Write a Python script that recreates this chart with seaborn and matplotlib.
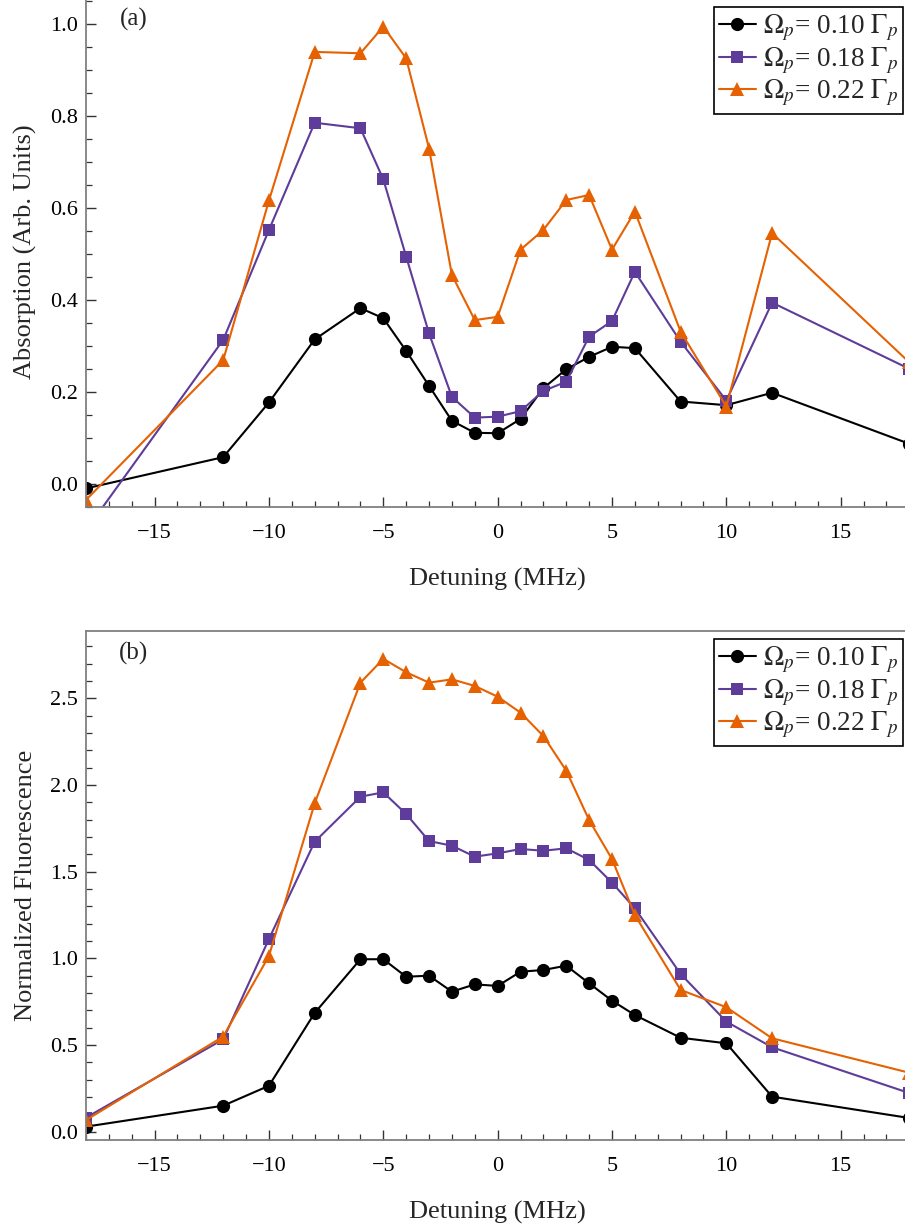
import numpy as np
import pandas as pd
import matplotlib
matplotlib.use("Agg")
import matplotlib.pyplot as plt
from matplotlib.ticker import MultipleLocator
import seaborn as sns

# ---------------- data ----------------
detuning = [-18, -12, -10, -8, -6, -5, -4, -3, -2, -1, 0, 1, 2, 3, 4, 5, 6, 8, 10, 12, 18]

abs_010 = [-0.009, 0.059, 0.178, 0.315, 0.383, 0.361, 0.290, 0.214, 0.138, 0.112, 0.111,
           0.142, 0.209, 0.250, 0.277, 0.299, 0.296, 0.180, 0.172, 0.199, 0.088]
abs_018 = [-0.100, 0.314, 0.553, 0.786, 0.774, 0.663, 0.495, 0.328, 0.190, 0.145, 0.147,
           0.159, 0.203, 0.223, 0.321, 0.355, 0.462, 0.310, 0.182, 0.395, 0.251]
abs_022 = [-0.034, 0.270, 0.617, 0.940, 0.937, 0.995, 0.926, 0.730, 0.455, 0.357, 0.364,
           0.510, 0.553, 0.618, 0.629, 0.510, 0.593, 0.332, 0.169, 0.546, 0.265]

flu_010 = [0.028, 0.149, 0.264, 0.684, 0.994, 0.994, 0.893, 0.899, 0.807, 0.849, 0.840,
           0.922, 0.932, 0.957, 0.855, 0.755, 0.672, 0.541, 0.509, 0.201, 0.078]
flu_018 = [0.080, 0.532, 1.111, 1.672, 1.932, 1.957, 1.832, 1.676, 1.649, 1.586, 1.605,
           1.630, 1.620, 1.634, 1.567, 1.436, 1.288, 0.909, 0.634, 0.486, 0.222]
flu_022 = [0.066, 0.548, 1.013, 1.894, 2.590, 2.727, 2.650, 2.590, 2.609, 2.571, 2.509,
           2.417, 2.282, 2.082, 1.797, 1.572, 1.249, 0.817, 0.717, 0.538, 0.339]

series_labels = [r'$\Omega_p$= 0.10 $\Gamma_p$',
                 r'$\Omega_p$= 0.18 $\Gamma_p$',
                 r'$\Omega_p$= 0.22 $\Gamma_p$']
colors = ['#000000', '#5E3C99', '#E66101']
markers = ['o', 's', '^']
msizes = [9.5, 8.0, 10.0]

panel_letters = ['(a)', '(b)']
ylabels = ['Absorption (Arb. Units)', 'Normalized Fluorescence']
xlabel = 'Detuning (MHz)'

# ---------------- style ----------------
sns.set_theme(style='ticks')
plt.rcParams['font.family'] = ['Liberation Serif', 'DejaVu Serif']
plt.rcParams['mathtext.fontset'] = 'stix'

W, H = 905, 1228
fig = plt.figure(figsize=(W / 100, H / 100), dpi=100)

def fr(left, right, top, bottom):
    return [left / W, 1 - bottom / H, (right - left) / W, (bottom - top) / H]

ax_a = fig.add_axes(fr(86, 909.3, -3.3, 507.3))
ax_b = fig.add_axes(fr(86, 909.3, 631, 1140))

panels = [
    (ax_a, [abs_010, abs_018, abs_022], (-0.05, 1.06), 0.2, 0.05, 0.979),
    (ax_b, [flu_010, flu_018, flu_022], (-0.049, 2.888), 0.5, 0.1, 0.9837),
]

for i, (ax, ys, ylim, maj, mnr, legy) in enumerate(panels):
    for y, lab, c, m, ms in zip(ys, series_labels, colors, markers, msizes):
        df = pd.DataFrame({'x': detuning, 'y': y})
        sns.lineplot(data=df, x='x', y='y', ax=ax, color=c, marker=m,
                     markersize=ms, markeredgewidth=0, linewidth=1.5,
                     label=lab, sort=False, errorbar=None)
    ax.set_xlim(-18, 18)
    ax.set_ylim(*ylim)
    ax.xaxis.set_major_locator(MultipleLocator(5))
    ax.xaxis.set_minor_locator(MultipleLocator(1))
    ax.yaxis.set_major_locator(MultipleLocator(maj))
    ax.yaxis.set_minor_locator(MultipleLocator(mnr))
    ax.yaxis.set_major_formatter(matplotlib.ticker.FormatStrFormatter('%.1f'))
    ax.tick_params(which='both', direction='in', top=False, right=False,
                   colors='#333333', labelcolor='black', labelsize=16)
    ax.tick_params(which='major', length=7, width=1.0)
    ax.tick_params(which='minor', length=4, width=0.9)
    ax.tick_params(axis='x', which='major', pad=12)
    ax.tick_params(axis='y', which='major', pad=6)
    for s in ax.spines.values():
        s.set_color('#808080')
        s.set_linewidth(1.3)
    ax.set_xlabel(xlabel, fontsize=19, labelpad=18)
    ax.set_ylabel(ylabels[i], fontsize=19, labelpad=9.5)
    ax.text(0.0583, 0.955, panel_letters[i], transform=ax.transAxes,
            fontsize=18, ha='center', va='center')
    leg = ax.legend(loc='upper right', bbox_to_anchor=(0.9923, legy),
                    borderaxespad=0, fontsize=19.5, frameon=True, fancybox=False,
                    framealpha=1, edgecolor='black', handlelength=1.35,
                    handletextpad=0.25, labelspacing=0.08, borderpad=0.2)
    leg.get_frame().set_linewidth(1.2)

fig.savefig('out.png', dpi=100)
